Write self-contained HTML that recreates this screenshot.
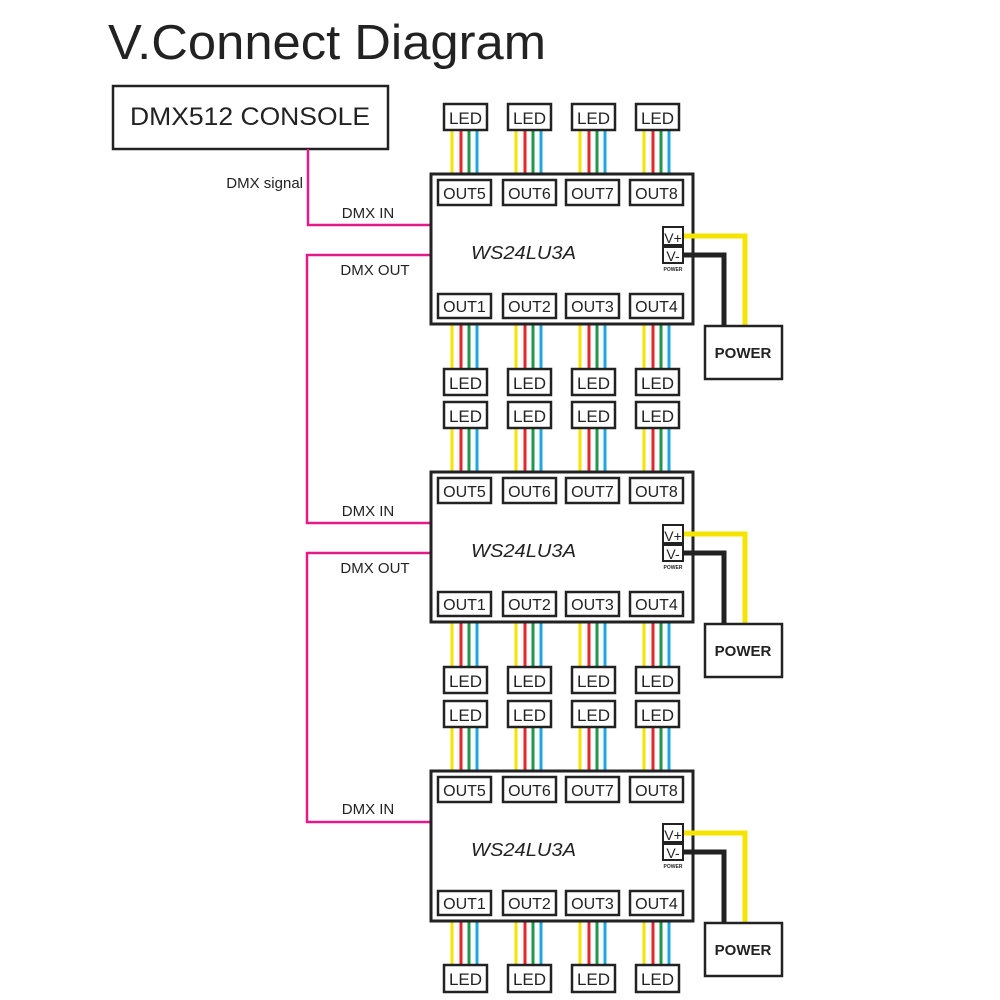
<!DOCTYPE html>
<html><head><meta charset="utf-8"><style>
body{margin:0;background:#fff;}
svg{display:block;font-family:"Liberation Sans",Arial,sans-serif;}
.b{fill:#fff;stroke:#222;stroke-width:2.5}
.t{font-size:16px;fill:#222;text-anchor:middle}
.l{font-size:17px;fill:#222;text-anchor:middle}
.y{stroke:#f4e400;stroke-width:3}.r{stroke:#e8232a;stroke-width:3}.g{stroke:#1a9a48;stroke-width:3}.c{stroke:#1ea8e0;stroke-width:3}
</style></head><body>
<svg width="1000" height="1000" viewBox="0 0 1000 1000">
<defs></defs>
<text x="108" y="59" font-size="49" fill="#222" textLength="438" lengthAdjust="spacingAndGlyphs">V.Connect Diagram</text>
<rect x="113" y="86" width="275" height="63" class="b"/>
<text x="250" y="125" font-size="25" fill="#222" text-anchor="middle" textLength="240" lengthAdjust="spacingAndGlyphs">DMX512 CONSOLE</text>
<text x="303" y="188" font-size="15" fill="#222" text-anchor="end">DMX  signal</text>
<g fill="none" stroke="#e6198a" stroke-width="2.5">
<path d="M308 149 V225 H431"/>
<path d="M431 255 H307 V523 H431"/>
<path d="M431 553 H307 V822 H431"/>
</g>
<g font-size="15" fill="#222" text-anchor="middle">
<text x="368" y="218">DMX IN</text><text x="375" y="275">DMX OUT</text>
<text x="368" y="516">DMX IN</text><text x="375" y="573">DMX OUT</text>
<text x="368" y="814">DMX IN</text>
</g>

<g>
<g>
<line x1="452" y1="130" x2="452" y2="180" class="y"/><line x1="461" y1="130" x2="461" y2="180" class="r"/><line x1="469" y1="130" x2="469" y2="180" class="g"/><line x1="477" y1="130" x2="477" y2="180" class="c"/>
<line x1="516" y1="130" x2="516" y2="180" class="y"/><line x1="525" y1="130" x2="525" y2="180" class="r"/><line x1="533" y1="130" x2="533" y2="180" class="g"/><line x1="541" y1="130" x2="541" y2="180" class="c"/>
<line x1="580" y1="130" x2="580" y2="180" class="y"/><line x1="589" y1="130" x2="589" y2="180" class="r"/><line x1="597" y1="130" x2="597" y2="180" class="g"/><line x1="605" y1="130" x2="605" y2="180" class="c"/>
<line x1="644" y1="130" x2="644" y2="180" class="y"/><line x1="653" y1="130" x2="653" y2="180" class="r"/><line x1="661" y1="130" x2="661" y2="180" class="g"/><line x1="669" y1="130" x2="669" y2="180" class="c"/>
<line x1="452" y1="318" x2="452" y2="369" class="y"/><line x1="461" y1="318" x2="461" y2="369" class="r"/><line x1="469" y1="318" x2="469" y2="369" class="g"/><line x1="477" y1="318" x2="477" y2="369" class="c"/>
<line x1="516" y1="318" x2="516" y2="369" class="y"/><line x1="525" y1="318" x2="525" y2="369" class="r"/><line x1="533" y1="318" x2="533" y2="369" class="g"/><line x1="541" y1="318" x2="541" y2="369" class="c"/>
<line x1="580" y1="318" x2="580" y2="369" class="y"/><line x1="589" y1="318" x2="589" y2="369" class="r"/><line x1="597" y1="318" x2="597" y2="369" class="g"/><line x1="605" y1="318" x2="605" y2="369" class="c"/>
<line x1="644" y1="318" x2="644" y2="369" class="y"/><line x1="653" y1="318" x2="653" y2="369" class="r"/><line x1="661" y1="318" x2="661" y2="369" class="g"/><line x1="669" y1="318" x2="669" y2="369" class="c"/>
</g>
<rect x="431" y="174" width="262" height="150" fill="#fff" stroke="#222" stroke-width="3"/>
<rect x="438" y="180" width="53" height="25" class="b"/><text x="464.5" y="199" class="t">OUT5</text>
<rect x="503" y="180" width="53" height="25" class="b"/><text x="529.5" y="199" class="t">OUT6</text>
<rect x="566" y="180" width="53" height="25" class="b"/><text x="592.5" y="199" class="t">OUT7</text>
<rect x="630" y="180" width="53" height="25" class="b"/><text x="656.5" y="199" class="t">OUT8</text>
<rect x="438" y="294" width="53" height="24" class="b"/><text x="464.5" y="312" class="t">OUT1</text>
<rect x="503" y="294" width="53" height="24" class="b"/><text x="529.5" y="312" class="t">OUT2</text>
<rect x="566" y="294" width="53" height="24" class="b"/><text x="592.5" y="312" class="t">OUT3</text>
<rect x="630" y="294" width="53" height="24" class="b"/><text x="656.5" y="312" class="t">OUT4</text>
<rect x="444" y="104" width="43" height="26" class="b"/><text x="465.5" y="124" class="l">LED</text>
<rect x="508" y="104" width="43" height="26" class="b"/><text x="529.5" y="124" class="l">LED</text>
<rect x="572" y="104" width="43" height="26" class="b"/><text x="593.5" y="124" class="l">LED</text>
<rect x="636" y="104" width="43" height="26" class="b"/><text x="657.5" y="124" class="l">LED</text>
<rect x="444" y="369" width="43" height="26" class="b"/><text x="465.5" y="389" class="l">LED</text>
<rect x="508" y="369" width="43" height="26" class="b"/><text x="529.5" y="389" class="l">LED</text>
<rect x="572" y="369" width="43" height="26" class="b"/><text x="593.5" y="389" class="l">LED</text>
<rect x="636" y="369" width="43" height="26" class="b"/><text x="657.5" y="389" class="l">LED</text>
<text x="471" y="259" font-size="18" font-style="italic" fill="#222" textLength="105" lengthAdjust="spacingAndGlyphs">WS24LU3A</text>
<path d="M683 236 H745 V325" fill="none" stroke="#f4e400" stroke-width="5"/>
<path d="M683 255 H724 V325" fill="none" stroke="#222" stroke-width="5"/>
<rect x="663" y="227" width="20" height="18" fill="#fff" stroke="#222" stroke-width="2"/><text x="673" y="243" font-size="14" fill="#222" text-anchor="middle">V+</text>
<rect x="663" y="247" width="20" height="16" fill="#fff" stroke="#222" stroke-width="2"/><text x="673" y="261" font-size="14" fill="#222" text-anchor="middle">V-</text>
<text x="673" y="271" font-size="5" font-weight="bold" fill="#222" text-anchor="middle">POWER</text>
<rect x="705" y="326" width="77" height="53" class="b"/>
<text x="743" y="358" font-size="15" font-weight="bold" fill="#222" text-anchor="middle">POWER</text>
</g>
<g transform="translate(0,298)">
<g>
<line x1="452" y1="130" x2="452" y2="180" class="y"/><line x1="461" y1="130" x2="461" y2="180" class="r"/><line x1="469" y1="130" x2="469" y2="180" class="g"/><line x1="477" y1="130" x2="477" y2="180" class="c"/>
<line x1="516" y1="130" x2="516" y2="180" class="y"/><line x1="525" y1="130" x2="525" y2="180" class="r"/><line x1="533" y1="130" x2="533" y2="180" class="g"/><line x1="541" y1="130" x2="541" y2="180" class="c"/>
<line x1="580" y1="130" x2="580" y2="180" class="y"/><line x1="589" y1="130" x2="589" y2="180" class="r"/><line x1="597" y1="130" x2="597" y2="180" class="g"/><line x1="605" y1="130" x2="605" y2="180" class="c"/>
<line x1="644" y1="130" x2="644" y2="180" class="y"/><line x1="653" y1="130" x2="653" y2="180" class="r"/><line x1="661" y1="130" x2="661" y2="180" class="g"/><line x1="669" y1="130" x2="669" y2="180" class="c"/>
<line x1="452" y1="318" x2="452" y2="369" class="y"/><line x1="461" y1="318" x2="461" y2="369" class="r"/><line x1="469" y1="318" x2="469" y2="369" class="g"/><line x1="477" y1="318" x2="477" y2="369" class="c"/>
<line x1="516" y1="318" x2="516" y2="369" class="y"/><line x1="525" y1="318" x2="525" y2="369" class="r"/><line x1="533" y1="318" x2="533" y2="369" class="g"/><line x1="541" y1="318" x2="541" y2="369" class="c"/>
<line x1="580" y1="318" x2="580" y2="369" class="y"/><line x1="589" y1="318" x2="589" y2="369" class="r"/><line x1="597" y1="318" x2="597" y2="369" class="g"/><line x1="605" y1="318" x2="605" y2="369" class="c"/>
<line x1="644" y1="318" x2="644" y2="369" class="y"/><line x1="653" y1="318" x2="653" y2="369" class="r"/><line x1="661" y1="318" x2="661" y2="369" class="g"/><line x1="669" y1="318" x2="669" y2="369" class="c"/>
</g>
<rect x="431" y="174" width="262" height="150" fill="#fff" stroke="#222" stroke-width="3"/>
<rect x="438" y="180" width="53" height="25" class="b"/><text x="464.5" y="199" class="t">OUT5</text>
<rect x="503" y="180" width="53" height="25" class="b"/><text x="529.5" y="199" class="t">OUT6</text>
<rect x="566" y="180" width="53" height="25" class="b"/><text x="592.5" y="199" class="t">OUT7</text>
<rect x="630" y="180" width="53" height="25" class="b"/><text x="656.5" y="199" class="t">OUT8</text>
<rect x="438" y="294" width="53" height="24" class="b"/><text x="464.5" y="312" class="t">OUT1</text>
<rect x="503" y="294" width="53" height="24" class="b"/><text x="529.5" y="312" class="t">OUT2</text>
<rect x="566" y="294" width="53" height="24" class="b"/><text x="592.5" y="312" class="t">OUT3</text>
<rect x="630" y="294" width="53" height="24" class="b"/><text x="656.5" y="312" class="t">OUT4</text>
<rect x="444" y="104" width="43" height="26" class="b"/><text x="465.5" y="124" class="l">LED</text>
<rect x="508" y="104" width="43" height="26" class="b"/><text x="529.5" y="124" class="l">LED</text>
<rect x="572" y="104" width="43" height="26" class="b"/><text x="593.5" y="124" class="l">LED</text>
<rect x="636" y="104" width="43" height="26" class="b"/><text x="657.5" y="124" class="l">LED</text>
<rect x="444" y="369" width="43" height="26" class="b"/><text x="465.5" y="389" class="l">LED</text>
<rect x="508" y="369" width="43" height="26" class="b"/><text x="529.5" y="389" class="l">LED</text>
<rect x="572" y="369" width="43" height="26" class="b"/><text x="593.5" y="389" class="l">LED</text>
<rect x="636" y="369" width="43" height="26" class="b"/><text x="657.5" y="389" class="l">LED</text>
<text x="471" y="259" font-size="18" font-style="italic" fill="#222" textLength="105" lengthAdjust="spacingAndGlyphs">WS24LU3A</text>
<path d="M683 236 H745 V325" fill="none" stroke="#f4e400" stroke-width="5"/>
<path d="M683 255 H724 V325" fill="none" stroke="#222" stroke-width="5"/>
<rect x="663" y="227" width="20" height="18" fill="#fff" stroke="#222" stroke-width="2"/><text x="673" y="243" font-size="14" fill="#222" text-anchor="middle">V+</text>
<rect x="663" y="247" width="20" height="16" fill="#fff" stroke="#222" stroke-width="2"/><text x="673" y="261" font-size="14" fill="#222" text-anchor="middle">V-</text>
<text x="673" y="271" font-size="5" font-weight="bold" fill="#222" text-anchor="middle">POWER</text>
<rect x="705" y="326" width="77" height="53" class="b"/>
<text x="743" y="358" font-size="15" font-weight="bold" fill="#222" text-anchor="middle">POWER</text>
</g>
<g transform="translate(0,597)">
<g>
<line x1="452" y1="130" x2="452" y2="180" class="y"/><line x1="461" y1="130" x2="461" y2="180" class="r"/><line x1="469" y1="130" x2="469" y2="180" class="g"/><line x1="477" y1="130" x2="477" y2="180" class="c"/>
<line x1="516" y1="130" x2="516" y2="180" class="y"/><line x1="525" y1="130" x2="525" y2="180" class="r"/><line x1="533" y1="130" x2="533" y2="180" class="g"/><line x1="541" y1="130" x2="541" y2="180" class="c"/>
<line x1="580" y1="130" x2="580" y2="180" class="y"/><line x1="589" y1="130" x2="589" y2="180" class="r"/><line x1="597" y1="130" x2="597" y2="180" class="g"/><line x1="605" y1="130" x2="605" y2="180" class="c"/>
<line x1="644" y1="130" x2="644" y2="180" class="y"/><line x1="653" y1="130" x2="653" y2="180" class="r"/><line x1="661" y1="130" x2="661" y2="180" class="g"/><line x1="669" y1="130" x2="669" y2="180" class="c"/>
<line x1="452" y1="318" x2="452" y2="369" class="y"/><line x1="461" y1="318" x2="461" y2="369" class="r"/><line x1="469" y1="318" x2="469" y2="369" class="g"/><line x1="477" y1="318" x2="477" y2="369" class="c"/>
<line x1="516" y1="318" x2="516" y2="369" class="y"/><line x1="525" y1="318" x2="525" y2="369" class="r"/><line x1="533" y1="318" x2="533" y2="369" class="g"/><line x1="541" y1="318" x2="541" y2="369" class="c"/>
<line x1="580" y1="318" x2="580" y2="369" class="y"/><line x1="589" y1="318" x2="589" y2="369" class="r"/><line x1="597" y1="318" x2="597" y2="369" class="g"/><line x1="605" y1="318" x2="605" y2="369" class="c"/>
<line x1="644" y1="318" x2="644" y2="369" class="y"/><line x1="653" y1="318" x2="653" y2="369" class="r"/><line x1="661" y1="318" x2="661" y2="369" class="g"/><line x1="669" y1="318" x2="669" y2="369" class="c"/>
</g>
<rect x="431" y="174" width="262" height="150" fill="#fff" stroke="#222" stroke-width="3"/>
<rect x="438" y="180" width="53" height="25" class="b"/><text x="464.5" y="199" class="t">OUT5</text>
<rect x="503" y="180" width="53" height="25" class="b"/><text x="529.5" y="199" class="t">OUT6</text>
<rect x="566" y="180" width="53" height="25" class="b"/><text x="592.5" y="199" class="t">OUT7</text>
<rect x="630" y="180" width="53" height="25" class="b"/><text x="656.5" y="199" class="t">OUT8</text>
<rect x="438" y="294" width="53" height="24" class="b"/><text x="464.5" y="312" class="t">OUT1</text>
<rect x="503" y="294" width="53" height="24" class="b"/><text x="529.5" y="312" class="t">OUT2</text>
<rect x="566" y="294" width="53" height="24" class="b"/><text x="592.5" y="312" class="t">OUT3</text>
<rect x="630" y="294" width="53" height="24" class="b"/><text x="656.5" y="312" class="t">OUT4</text>
<rect x="444" y="104" width="43" height="26" class="b"/><text x="465.5" y="124" class="l">LED</text>
<rect x="508" y="104" width="43" height="26" class="b"/><text x="529.5" y="124" class="l">LED</text>
<rect x="572" y="104" width="43" height="26" class="b"/><text x="593.5" y="124" class="l">LED</text>
<rect x="636" y="104" width="43" height="26" class="b"/><text x="657.5" y="124" class="l">LED</text>
<rect x="444" y="368" width="43" height="27" class="b"/><text x="465.5" y="388" class="l">LED</text>
<rect x="508" y="368" width="43" height="27" class="b"/><text x="529.5" y="388" class="l">LED</text>
<rect x="572" y="368" width="43" height="27" class="b"/><text x="593.5" y="388" class="l">LED</text>
<rect x="636" y="368" width="43" height="27" class="b"/><text x="657.5" y="388" class="l">LED</text>
<text x="471" y="259" font-size="18" font-style="italic" fill="#222" textLength="105" lengthAdjust="spacingAndGlyphs">WS24LU3A</text>
<path d="M683 236 H745 V325" fill="none" stroke="#f4e400" stroke-width="5"/>
<path d="M683 255 H724 V325" fill="none" stroke="#222" stroke-width="5"/>
<rect x="663" y="227" width="20" height="18" fill="#fff" stroke="#222" stroke-width="2"/><text x="673" y="243" font-size="14" fill="#222" text-anchor="middle">V+</text>
<rect x="663" y="247" width="20" height="16" fill="#fff" stroke="#222" stroke-width="2"/><text x="673" y="261" font-size="14" fill="#222" text-anchor="middle">V-</text>
<text x="673" y="271" font-size="5" font-weight="bold" fill="#222" text-anchor="middle">POWER</text>
<rect x="705" y="326" width="77" height="53" class="b"/>
<text x="743" y="358" font-size="15" font-weight="bold" fill="#222" text-anchor="middle">POWER</text>
</g>
</svg>
</body></html>
